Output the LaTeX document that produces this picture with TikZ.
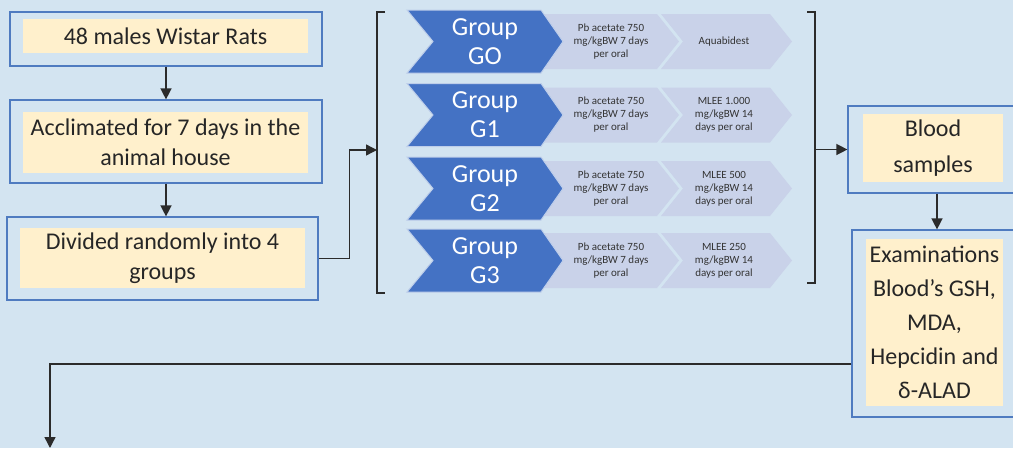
\documentclass[tikz,border=0pt]{standalone}
\usepackage{fontspec}
\setmainfont{Carlito}
\usetikzlibrary{arrows.meta}
\definecolor{bg}{HTML}{D3E4F1}
\definecolor{bord}{HTML}{4F7BC0}
\definecolor{innerfill}{HTML}{FFF0CC}
\definecolor{darkchev}{HTML}{4472C4}
\definecolor{litechev}{HTML}{C9D2E9}
\definecolor{conn}{HTML}{2B2B2B}
\definecolor{smalltxt}{HTML}{333333}
\tikzset{
  outerbox/.style={draw=bord, line width=1.2pt, inner sep=0pt},
  innerbox/.style={fill=innerfill, inner sep=0pt, align=center, text=black!85,
                   font=\fontsize{24}{30}\selectfont},
  arr/.style={draw=conn, line width=1.4pt, -{Triangle[length=11pt,width=11pt]}},
  brk/.style={draw=conn, line width=1.4pt},
  grouptxt/.style={text=white, align=center, font=\fontsize{26}{29}\selectfont},
  smalltxtstyle/.style={text=smalltxt, align=center, font=\fontsize{11}{13}\selectfont}
}
\begin{document}
\begin{tikzpicture}[x=1pt,y=-1pt]
\useasboundingbox (0,0) rectangle (1013,448);
\clip (0,0) rectangle (1013,448);
\fill[bg] (0,0) rectangle (1013,448);

% left column
\node[outerbox, minimum width=312pt, minimum height=54pt] (b1) at (166,39) {};
\node[innerbox, minimum width=285pt, minimum height=34pt] (t1) at (165.5,36) {48 males Wistar Rats};
\node[outerbox, minimum width=312pt, minimum height=83pt] (b2) at (166,141.5) {};
\node[innerbox, minimum width=285pt, minimum height=61pt] (t2) at (165.5,142.5) {Acclimated for 7 days in the\\animal house};
\node[outerbox, minimum width=311pt, minimum height=83pt] (b3) at (162.5,258.5) {};
\node[innerbox, minimum width=285pt, minimum height=60pt] (t3) at (162.5,258) {Divided randomly into 4\\groups};

\draw[arr] (b1.south) -- (b2.north);
\draw[arr] (166,0 |- b2.south) -- (166,0 |- b3.north);

% brackets
\coordinate (lbt) at (377,12);
\coordinate (lbb) at (377,293);
\coordinate (lb) at (377,150);
\draw[brk] (lbt) ++(8,0) -- (lbt) -- (lbb) -- ++(8,0);
\coordinate (rbt) at (815,12);
\coordinate (rbb) at (815,283);
\coordinate (rb) at (815,149.5);
\draw[brk] (rbt) ++(-8,0) -- (rbt) -- (rbb) -- ++(-8,0);

\draw[arr] (b3.east) -- ++(31,0) |- (lb);

% chevrons
\foreach \c/\g/\ta/\tb [count=\i] in {
  41.5/{Group\\GO}/{Pb acetate 750\\mg/kgBW 7 days\\per oral}/{Aquabidest},
  115/{Group\\G1}/{Pb acetate 750\\mg/kgBW 7 days\\per oral}/{MLEE 1.000\\mg/kgBW 14\\days per oral},
  188.5/{Group\\G2}/{Pb acetate 750\\mg/kgBW 7 days\\per oral}/{MLEE 500\\mg/kgBW 14\\days per oral},
  260.5/{Group\\G3}/{Pb acetate 750\\mg/kgBW 7 days\\per oral}/{MLEE 250\\mg/kgBW 14\\days per oral}} {
  \fill[litechev] (661,{\c-27.5}) -- (770,{\c-27.5}) -- (792,\c) -- (770,{\c+27.5}) -- (661,{\c+27.5}) -- (683,\c) -- cycle;
  \fill[litechev] (528,{\c-27.5}) -- (657,{\c-27.5}) -- (679,\c) -- (657,{\c+27.5}) -- (528,{\c+27.5}) -- cycle;
  \filldraw[fill=darkchev, draw=white!65!darkchev, line width=1pt] (407,{\c-31.5}) -- (541,{\c-31.5}) -- (563,\c) -- (541,{\c+31.5}) -- (407,{\c+31.5}) -- (433,\c) -- cycle;
  \node[grouptxt] (gr\i) at (485,\c) {\g};
  \node[smalltxtstyle] (ta\i) at (611,\c) {\ta};
  \node[smalltxtstyle] (tb\i) at (724,\c) {\tb};
}

% right column
\node[outerbox, minimum width=166pt, minimum height=87pt] (blood) at (931,149.5) {};
\node[innerbox, minimum width=140pt, minimum height=68pt, font=\fontsize{24}{36}\selectfont] (tblood) at (933,148) {Blood\\samples};
\node[outerbox, minimum width=162pt, minimum height=187pt] (exam) at (933,323.5) {};
\node[innerbox, minimum width=137pt, minimum height=167pt, font=\fontsize{24}{34}\selectfont] (texam) at (934.5,322.5) {Examinations\\Blood’s GSH,\\MDA,\\Hepcidin and\\δ-ALAD};

\draw[arr] (rb) -- (blood.west);
\draw[arr] (937,0 |- blood.south) -- (937,0 |- exam.north);

\coordinate (turn) at (50,364);
\coordinate (outend) at (50,448);
\draw[arr] (exam.west |- turn) -- (turn) -- (outend);
\end{tikzpicture}
\end{document}
